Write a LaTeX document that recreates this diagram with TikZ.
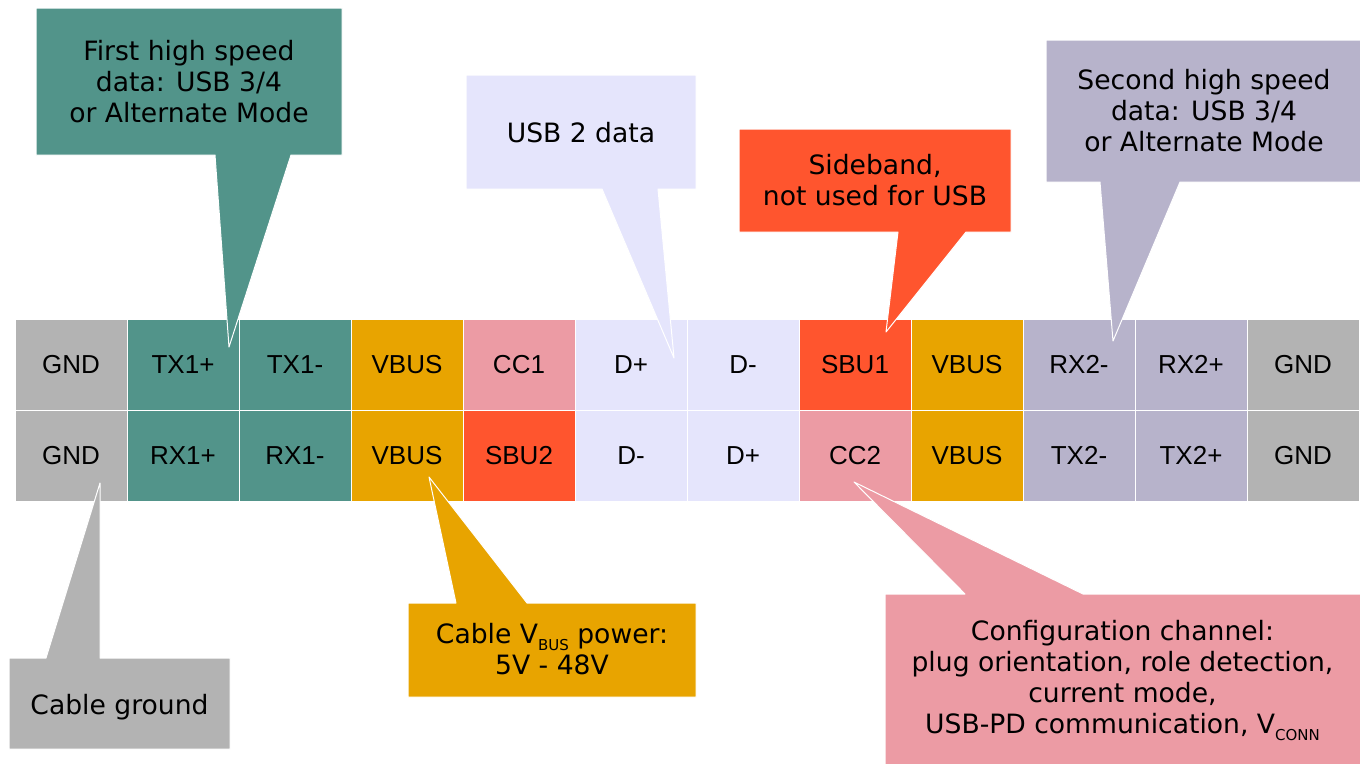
\documentclass[tikz,border=0pt]{standalone}
\usepackage{fontspec}
\newfontfamily\djv{DejaVu Sans}
\newfontfamily\lib{Liberation Sans}
\definecolor{cgray}{HTML}{B3B3B3}
\definecolor{cteal}{HTML}{52948A}
\definecolor{corange}{HTML}{E8A400}
\definecolor{cpink}{HTML}{EC9BA4}
\definecolor{clav}{HTML}{E5E5FC}
\definecolor{cred}{HTML}{FF552E}
\definecolor{cpurple}{HTML}{B7B3CB}
\newcommand\subtxt[1]{\raisebox{-7pt}{\fontsize{15}{15}\selectfont #1}}
\begin{document}
\begin{tikzpicture}[x=1pt,y=-1pt,
  cell/.style={draw=white, line width=1pt, minimum width=112pt, minimum height=91pt,
    inner sep=0pt, font=\lib\fontsize{26}{30}\selectfont, text=black},
  callout/.style={draw=white, line width=1pt, line join=round},
  ctext/.style={align=center, inner sep=0pt, font=\djv\fontsize{26.6}{31}\selectfont, text=black}]
\useasboundingbox (0,0) rectangle (1360,763);
% pin cells
\foreach \t/\c [count=\i from 0] in {GND/cgray, TX1+/cteal, TX1-/cteal, VBUS/corange, CC1/cpink, D+/clav, D-/clav, SBU1/cred, VBUS/corange, RX2-/cpurple, RX2+/cpurple, GND/cgray}
  \node[cell, fill=\c] (a\i) at (71+112*\i, 364.5) {\t};
\foreach \t/\c [count=\i from 0] in {GND/cgray, RX1+/cteal, RX1-/cteal, VBUS/corange, SBU2/cred, D-/clav, D+/clav, CC2/cpink, VBUS/corange, TX2-/cpurple, TX2+/cpurple, GND/cgray}
  \node[cell, fill=\c] (b\i) at (71+112*\i, 455.5) {\t};
% pointer tips
\coordinate (t1) at (229,347);
\coordinate (t2) at (674,358);
\coordinate (t3) at (886,332);
\coordinate (t4) at (1113,341);
\coordinate (t5) at (100,483);
\coordinate (t6) at (429,477);
\coordinate (t7) at (854,482);
% callouts
\path[callout, fill=cteal] (36,8) -- (342,8) -- (342,155) -- (291,155) -- (t1) -- (215,155) -- (36,155) -- cycle;
\node[ctext] (n1) at (189,81.5) {First high speed\\data: USB 3/4\\or Alternate Mode};
\path[callout, fill=clav] (466,75) -- (696,75) -- (696,189) -- (658,189) -- (t2) -- (602,189) -- (466,189) -- cycle;
\node[ctext] (n2) at (581,133) {USB 2 data};
\path[callout, fill=cred] (739,129) -- (1011,129) -- (1011,232) -- (966,232) -- (t3) -- (898,232) -- (739,232) -- cycle;
\node[ctext] (n3) at (875,180.5) {Sideband,\\not used for USB};
\path[callout, fill=cpurple] (1046,40) -- (1362,40) -- (1362,182) -- (1180,182) -- (t4) -- (1100,182) -- (1046,182) -- cycle;
\node[ctext] (n4) at (1204,111) {Second high speed\\data: USB 3/4\\or Alternate Mode};
\path[callout, fill=cgray] (9,658) -- (46,658) -- (t5) -- (100,658) -- (230,658) -- (230,749) -- (9,749) -- cycle;
\node[ctext] (n5) at (119.5,707) {Cable ground};
\path[callout, fill=corange] (408,603) -- (456,603) -- (t6) -- (527,603) -- (696,603) -- (696,697) -- (408,697) -- cycle;
\node[ctext] (n6) at (552,649) {Cable V\subtxt{BUS} power:\\5V - 48V};
\path[callout, fill=cpink] (885,594) -- (965,594) -- (t7) -- (1083,594) -- (1362,594) -- (1362,765) -- (885,765) -- cycle;
\node[ctext] (n7) at (1122.5,680) {Configuration channel:\\plug orientation, role detection,\\current mode,\\USB-PD communication, V\subtxt{CONN}};
\end{tikzpicture}
\end{document}
